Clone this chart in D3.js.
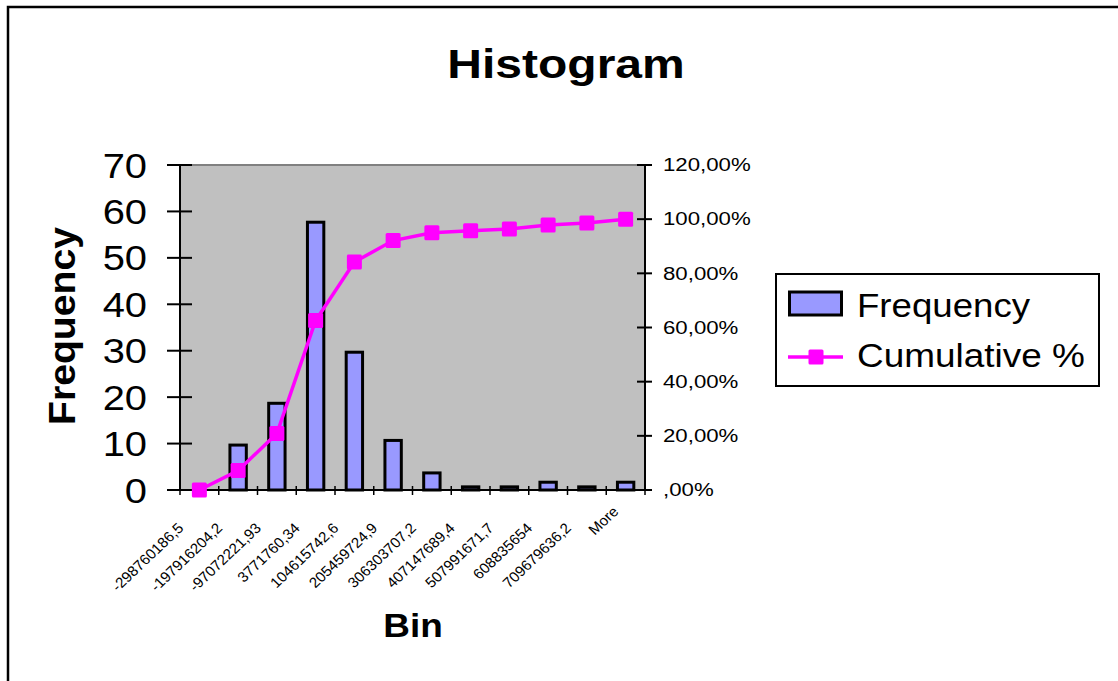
<!DOCTYPE html>
<html>
<head>
<meta charset="utf-8">
<script src="https://cdn.jsdelivr.net/npm/d3@7"></script>
<style>
  body { margin: 0; background: #fff; }
  svg { display: block; }
  text { font-family: Arial, "Liberation Sans", sans-serif; fill: #000; }
</style>
</head>
<body>
<svg id="chart" width="1118" height="681"></svg>
<script>
// Histogram bins (upper bounds) and counts
const bins = ["-298760186,5", "-197916204,2", "-97072221,93", "3771760,34", "104615742,6",
              "205459724,9", "306303707,2", "407147689,4", "507991671,7", "608835654",
              "709679636,2", "More"];
const frequency = [0, 10, 19, 58, 30, 11, 4, 1, 1, 2, 1, 2];
const cumulativePct = [0, 7.19, 20.86, 62.59, 84.17, 92.09, 94.96, 95.68, 96.40, 97.84, 98.56, 100];

const freqTicks = [0, 10, 20, 30, 40, 50, 60, 70];
const pctTicks = [0, 20, 40, 60, 80, 100, 120];
const pctTickLabels = [",00%", "20,00%", "40,00%", "60,00%", "80,00%", "100,00%", "120,00%"];

const svg = d3.select("#chart");
const plot = { left: 180, right: 645, top: 165, bottom: 490 };
const barColor = "#9999FF", lineColor = "#FF00FF";

const x = d3.scaleBand().domain(bins).range([plot.left, plot.right]);
const y = d3.scaleLinear().domain([0, 70]).range([plot.bottom, plot.top]);
const y2 = d3.scaleLinear().domain([0, 120]).range([plot.bottom, plot.top]);

// place a text at (px,py) with a horizontal stretch
function placeStretched(sel, px, py, sx, extra) {
  sel.attr("x", 0).attr("y", 0)
     .attr("transform", `translate(${px},${py}) scale(${sx},1)` + (extra || ""));
}

// outer chart frame
svg.append("rect").attr("x", 8).attr("y", 7).attr("width", 1300).attr("height", 900)
  .attr("fill", "#fff").attr("stroke", "#000").attr("stroke-width", 2.5);

// title
svg.append("text").text("Histogram")
  .attr("text-anchor", "middle").attr("font-size", 40).attr("font-weight", "bold")
  .call(placeStretched, 566, 78, 1.2);

// plot area
svg.append("rect").attr("x", plot.left).attr("y", plot.top)
  .attr("width", plot.right - plot.left).attr("height", plot.bottom - plot.top)
  .attr("fill", "#C0C0C0");
svg.append("line").attr("x1", plot.left).attr("x2", plot.right)
  .attr("y1", plot.top).attr("y2", plot.top)
  .attr("stroke", "#808080").attr("stroke-width", 2);

// frequency bars
const bw = x.bandwidth();
svg.append("g").selectAll("rect").data(frequency).join("rect")
  .attr("x", (d, i) => x(bins[i]) + bw * 0.25 + 1.5)
  .attr("width", bw * 0.5 - 3)
  .attr("y", d => y(d) + 1.5)
  .attr("height", d => Math.max(0, y(0) - y(d) - 1.5))
  .attr("fill", barColor).attr("stroke", "#000").attr("stroke-width", 3);

// left axis
const gL = svg.append("g");
gL.append("line").attr("x1", plot.left).attr("x2", plot.left)
  .attr("y1", plot.top).attr("y2", plot.bottom).attr("stroke", "#000").attr("stroke-width", 2);
gL.selectAll("line.tick").data(freqTicks).join("line").attr("class", "tick")
  .attr("x1", plot.left - 13).attr("x2", plot.left + 12)
  .attr("y1", d => y(d)).attr("y2", d => y(d)).attr("stroke", "#000").attr("stroke-width", 2);
gL.selectAll("text").data(freqTicks).join("text").text(d => d)
  .attr("text-anchor", "end").attr("font-size", 35).attr("dy", "0.36em")
  .each(function (d) { d3.select(this).call(placeStretched, 147, y(d), 1.14); });

// right axis
const gR = svg.append("g");
gR.append("line").attr("x1", plot.right).attr("x2", plot.right)
  .attr("y1", plot.top).attr("y2", plot.bottom).attr("stroke", "#000").attr("stroke-width", 2);
gR.selectAll("line.tick").data(pctTicks).join("line").attr("class", "tick")
  .attr("x1", plot.right - 8).attr("x2", plot.right + 7)
  .attr("y1", d => y2(d)).attr("y2", d => y2(d)).attr("stroke", "#000").attr("stroke-width", 2);
gR.selectAll("text").data(pctTicks).join("text").text((d, i) => pctTickLabels[i])
  .attr("text-anchor", "start").attr("font-size", 17.5).attr("dy", "0.36em")
  .each(function (d) { d3.select(this).call(placeStretched, 663, y2(d), 1.27); });

// bottom axis
const gB = svg.append("g");
gB.append("line").attr("x1", plot.left - 13).attr("x2", plot.right)
  .attr("y1", plot.bottom).attr("y2", plot.bottom).attr("stroke", "#000").attr("stroke-width", 2);
const edges = bins.map(b => x(b)).concat([plot.right]);
gB.selectAll("line.tick").data(edges).join("line").attr("class", "tick")
  .attr("x1", d => d).attr("x2", d => d)
  .attr("y1", plot.bottom - 4).attr("y2", plot.bottom + 5)
  .attr("stroke", "#000").attr("stroke-width", 1.5);
// rotated bin labels: the end of each label sits down-left of its tick,
// shorter labels sitting closer to the axis
gB.selectAll("text").data(bins).join("text").text(d => d)
  .attr("text-anchor", "end").attr("font-size", 14.5)
  .each(function (d) {
    const l = this.getComputedTextLength();
    const t = Math.max(0, Math.min(1, (l - 32) / 38));
    const dx = -6 + t * (-15 + 6);
    const dy = 22 + t * (39 - 22);
    d3.select(this).call(placeStretched, x(d) + bw / 2 + dx, plot.bottom + dy, 1.05, " rotate(-45)");
  });

// axis titles
svg.append("text").text("Frequency")
  .attr("text-anchor", "middle").attr("font-size", 36).attr("font-weight", "bold")
  .attr("textLength", 198).attr("lengthAdjust", "spacingAndGlyphs")
  .attr("transform", "translate(75,326) rotate(-90)");
svg.append("text").text("Bin")
  .attr("text-anchor", "middle").attr("font-size", 33).attr("font-weight", "bold")
  .call(placeStretched, 413, 637, 1.12);

// cumulative % line with square markers
const pts = cumulativePct.map((v, i) => [x(bins[i]) + bw / 2, y2(v)]);
svg.append("path").attr("d", d3.line()(pts))
  .attr("fill", "none").attr("stroke", lineColor).attr("stroke-width", 3.5);
svg.append("g").selectAll("rect").data(pts).join("rect")
  .attr("x", d => d[0] - 7.5).attr("y", d => d[1] - 7.5)
  .attr("width", 15).attr("height", 15).attr("rx", 1.5)
  .attr("fill", lineColor);

// legend
const lg = svg.append("g");
lg.append("rect").attr("x", 776).attr("y", 274).attr("width", 323).attr("height", 112)
  .attr("fill", "#fff").attr("stroke", "#000").attr("stroke-width", 2);
lg.append("rect").attr("x", 789.5).attr("y", 292).attr("width", 52).attr("height", 23)
  .attr("fill", barColor).attr("stroke", "#000").attr("stroke-width", 3);
lg.append("text").text("Frequency").attr("font-size", 33)
  .call(placeStretched, 857, 317, 1.11);
lg.append("line").attr("x1", 788).attr("x2", 843).attr("y1", 357).attr("y2", 357)
  .attr("stroke", lineColor).attr("stroke-width", 3.5);
lg.append("rect").attr("x", 808.5).attr("y", 349.5).attr("width", 15).attr("height", 15)
  .attr("rx", 1.5).attr("fill", lineColor);
lg.append("text").text("Cumulative %").attr("font-size", 33)
  .call(placeStretched, 857, 367, 1.12);
</script>
</body>
</html>
